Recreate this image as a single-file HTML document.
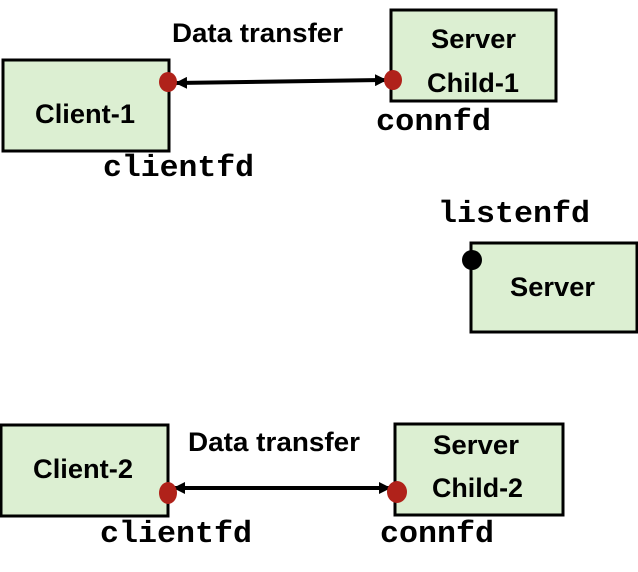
<!DOCTYPE html>
<html><head><meta charset="utf-8"><style>
html,body{margin:0;padding:0;background:#fff;}
svg{display:block;}
.lbl{font-family:"Liberation Sans",sans-serif;font-weight:bold;font-size:27px;fill:#000;}
.mono{font-family:"Liberation Mono",monospace;font-weight:bold;font-size:31px;fill:#000;}
</style></head><body>
<svg width="638" height="572" viewBox="0 0 638 572" xmlns="http://www.w3.org/2000/svg">
<defs>
<marker id="ah" markerWidth="12" markerHeight="12" refX="11" refY="6" orient="auto-start-reverse" markerUnits="userSpaceOnUse">
<path d="M0,0 L12,6 L0,12 z" fill="#000"/>
</marker>
</defs>
<g fill="#dcefd2" stroke="#000" stroke-width="3">
<rect x="3" y="60" width="166" height="91"/>
<rect x="391" y="10" width="165" height="91"/>
<rect x="471" y="243" width="166" height="89"/>
<rect x="1" y="425" width="167" height="91"/>
<rect x="395" y="424" width="168" height="91"/>
</g>
<line x1="176" y1="83" x2="386" y2="80" stroke="#000" stroke-width="4" marker-start="url(#ah)" marker-end="url(#ah)"/>
<line x1="174" y1="488" x2="390" y2="488" stroke="#000" stroke-width="4" marker-start="url(#ah)" marker-end="url(#ah)"/>
<g fill="#b0221a">
<ellipse cx="168" cy="82" rx="9" ry="10"/>
<ellipse cx="393" cy="80" rx="9" ry="10"/>
<ellipse cx="168" cy="493" rx="9" ry="11"/>
<ellipse cx="397" cy="492" rx="10" ry="11"/>
</g>
<circle cx="472" cy="260" r="10" fill="#000"/>
<text class="lbl" x="172" y="42" textLength="171" lengthAdjust="spacingAndGlyphs">Data transfer</text>
<text class="lbl" x="188" y="451" textLength="172" lengthAdjust="spacingAndGlyphs">Data transfer</text>
<text class="lbl" x="35" y="123" textLength="100" lengthAdjust="spacingAndGlyphs">Client-1</text>
<text class="lbl" x="431" y="48" textLength="85" lengthAdjust="spacingAndGlyphs">Server</text>
<text class="lbl" x="427" y="92" textLength="92" lengthAdjust="spacingAndGlyphs">Child-1</text>
<text class="lbl" x="510" y="296" textLength="85" lengthAdjust="spacingAndGlyphs">Server</text>
<text class="lbl" x="33" y="478" textLength="100" lengthAdjust="spacingAndGlyphs">Client-2</text>
<text class="lbl" x="433" y="454" textLength="86" lengthAdjust="spacingAndGlyphs">Server</text>
<text class="lbl" x="432" y="497" textLength="91" lengthAdjust="spacingAndGlyphs">Child-2</text>
<text class="mono" x="103" y="176" textLength="151" lengthAdjust="spacingAndGlyphs">clientfd</text>
<text class="mono" x="376" y="130" textLength="115" lengthAdjust="spacingAndGlyphs">connfd</text>
<text class="mono" x="438" y="222" textLength="152" lengthAdjust="spacingAndGlyphs">listenfd</text>
<text class="mono" x="100" y="542" textLength="152" lengthAdjust="spacingAndGlyphs">clientfd</text>
<text class="mono" x="380" y="542" textLength="114" lengthAdjust="spacingAndGlyphs">connfd</text>
</svg>
</body></html>
